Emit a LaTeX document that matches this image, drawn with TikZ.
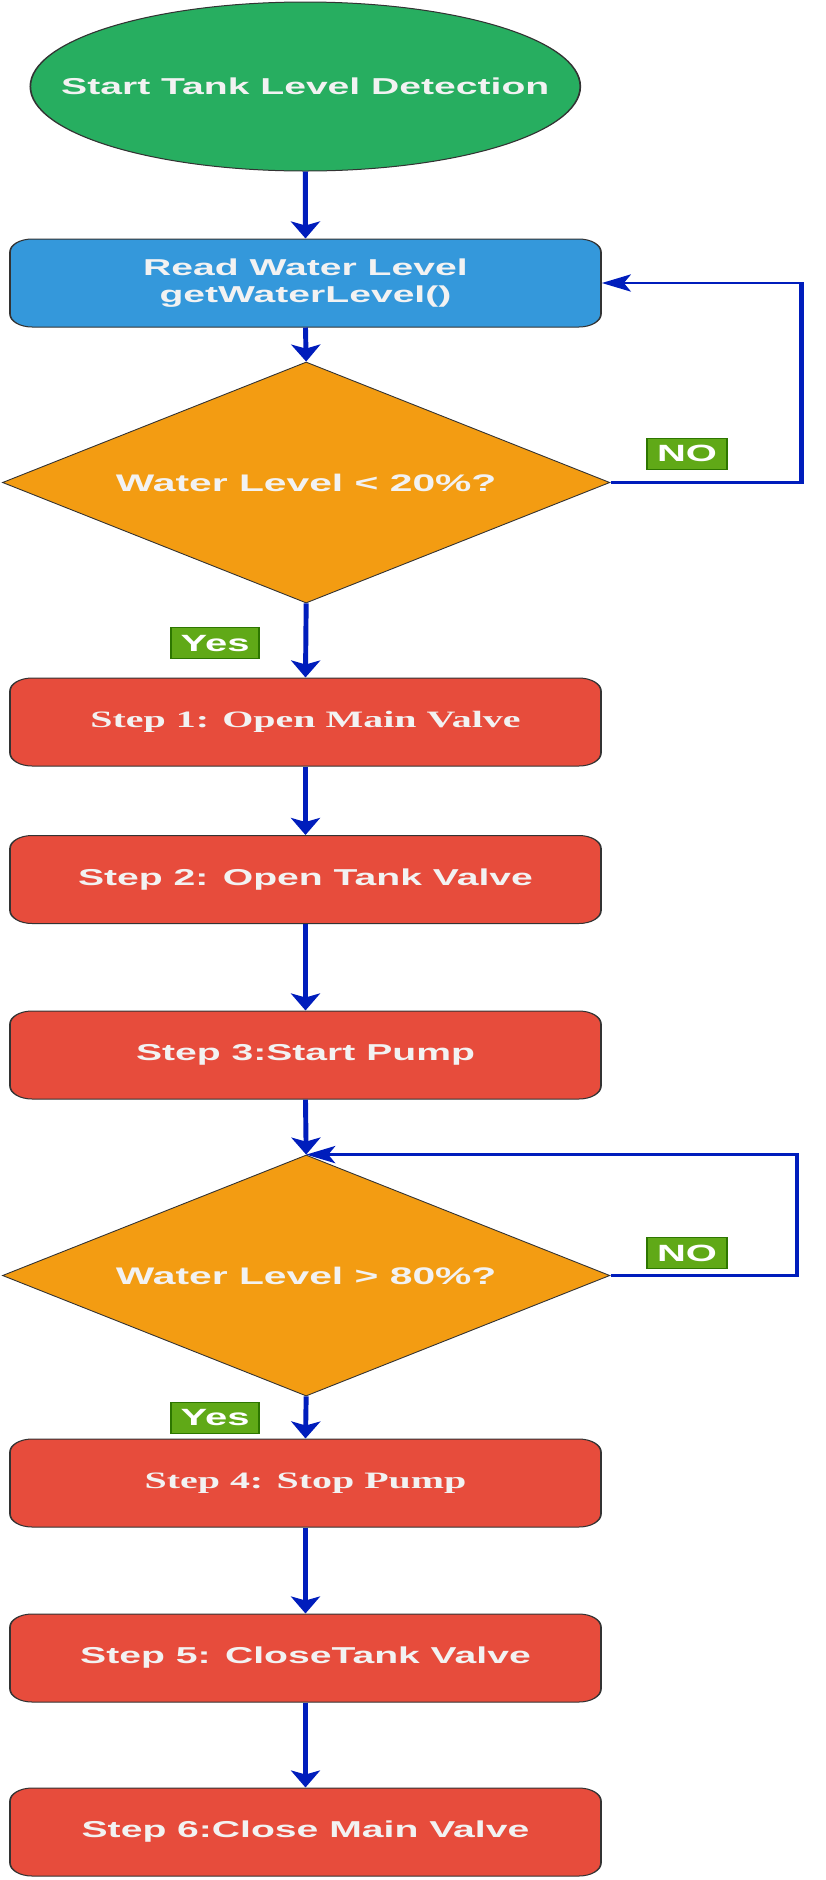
\documentclass[tikz,border=0pt]{standalone}
\usepackage{fontspec}
\setmainfont{Liberation Sans}
\newfontfamily\serifbold{Liberation Serif}
\usetikzlibrary{shapes.geometric,arrows.meta}
\definecolor{startgreen}{HTML}{27AE60}
\definecolor{readblue}{HTML}{3498DB}
\definecolor{decorange}{HTML}{F39C12}
\definecolor{stepred}{HTML}{E74C3C}
\definecolor{lblgreen}{HTML}{60A917}
\definecolor{lblborder}{HTML}{2D7600}
\definecolor{arrowblue}{HTML}{001DBC}
\definecolor{bordergray}{HTML}{333333}
\definecolor{txt}{HTML}{F2F2F2}
\begin{document}
\begin{tikzpicture}[x=1pt,y=-1pt,
  mainfont/.style={font=\fontsize{23}{27}\selectfont\bfseries},
  serffont/.style={font=\fontsize{23.5}{27}\serifbold\bfseries},
  stepbox/.style={rectangle, draw=bordergray, line width=1pt, rounded corners=13pt,
    fill=stepred, minimum width=347.6pt, minimum height=88pt, inner sep=0pt,
    text=txt, align=center, mainfont},
  startnode/.style={ellipse, draw=bordergray, line width=1pt, fill=startgreen,
    minimum width=323.5pt, minimum height=169pt, inner xsep=-50pt, inner ysep=0pt,
    text=txt, mainfont},
  decision/.style={diamond, aspect=1.48, draw=bordergray, line width=0.8pt, fill=decorange,
    minimum width=357.4pt, minimum height=241pt, inner sep=0pt, text=txt,
    font=\fontsize{24}{28}\selectfont\bfseries},
  lbl/.style={rectangle, draw=lblborder, line width=1pt, fill=lblgreen, text=white,
    inner sep=0pt, minimum height=31pt, font=\fontsize{23.5}{27}\selectfont\bfseries},
  flow/.style={draw=arrowblue, line width=2.9pt,
    -{Stealth[length=17pt,width=17pt,inset=4pt]}}
]
\useasboundingbox (0,0) rectangle (826,1880);
\begin{scope}[transform canvas={xscale=1.7}]
  \node[startnode] (start) at (179.6,86.5) {Start Tank Level Detection};
  \node[stepbox, fill=readblue] (read) at (179.7,283) {Read Water Level\\getWaterLevel()};
  \node[decision] (d1) at (180.1,482.5) {Water Level < 20\%?};
  \node[stepbox, serffont] (s1) at (179.7,722) {Step 1: Open Main Valve};
  \node[stepbox] (s2) at (179.7,879.5) {Step 2: Open Tank Valve};
  \node[stepbox] (s3) at (179.7,1055) {Step 3:Start Pump};
  \node[decision] (d2) at (180.1,1275.5) {Water Level > 80\%?};
  \node[stepbox, serffont] (s4) at (179.7,1483) {Step 4: Stop Pump};
  \node[stepbox] (s5) at (179.7,1658) {Step 5: CloseTank Valve};
  \node[stepbox] (s6) at (179.7,1832) {Step 6:Close Main Valve};

  \node[lbl, minimum width=47pt] (no1) at (404.1,453.8) {NO};
  \node[lbl, minimum width=47pt] (no2) at (404.1,1253.3) {NO};
  \node[lbl, minimum width=51.8pt] (yes1) at (126.5,643.3) {Yes};
  \node[lbl, minimum width=51.8pt] (yes2) at (126.5,1417.8) {Yes};

  \coordinate (c1) at (471.2,482.5);
  \coordinate (c2) at (468.8,1275.5);

  \draw[flow] (start.south) -- (read.north);
  \draw[flow] (read.south) -- (d1.north);
  \draw[flow] (d1.south) -- (s1.north);
  \draw[flow] (s1.south) -- (s2.north);
  \draw[flow] (s2.south) -- (s3.north);
  \draw[flow] (s3.south) -- (d2.north);
  \draw[flow] (d2.south) -- (s4.north);
  \draw[flow] (s4.south) -- (s5.north);
  \draw[flow] (s5.south) -- (s6.north);
  \draw[flow] (d1.east) -- (c1) |- (read.east);
  \draw[flow] (d2.east) -- (c2) |- (d2.north);
\end{scope}
\end{tikzpicture}
\end{document}
